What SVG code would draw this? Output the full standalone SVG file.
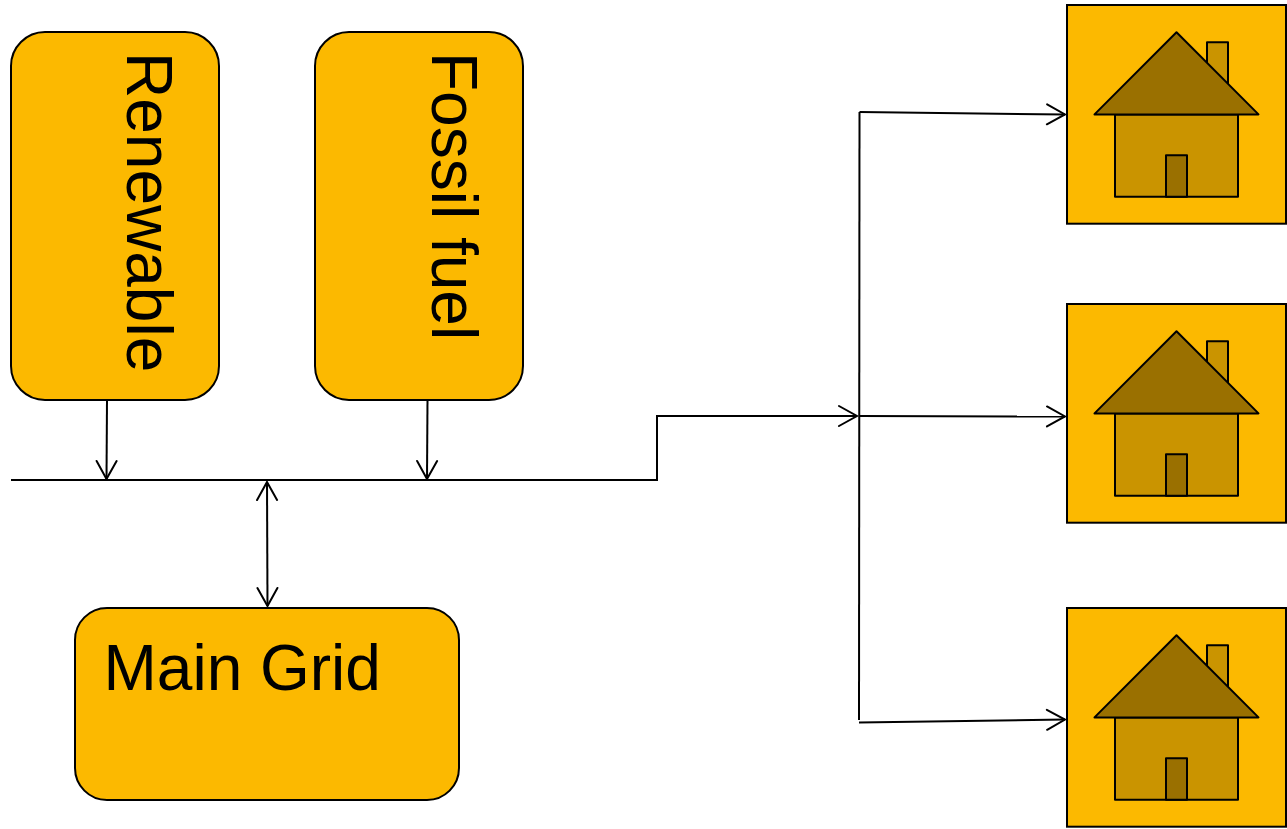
<svg xmlns="http://www.w3.org/2000/svg" width="1287" height="829" viewBox="0 0 1287 829">
<style>
.box{fill:#fcb900;stroke:#000;stroke-width:2}
.lbl{font-family:"Liberation Sans",Arial,sans-serif;font-size:64px;fill:#000}
.c{fill:none;stroke:#000;stroke-width:2}
.ah{fill:none;stroke:#000;stroke-width:2;stroke-linecap:round;stroke-linejoin:miter}
.hl{stroke:#000;stroke-width:2;stroke-linejoin:round}
.m{fill:#ca9400}
.d{fill:#9a7000}
</style>
<defs>
<marker id="a" viewBox="-22 -12 24 24" refX="0" refY="0" markerWidth="24" markerHeight="24" markerUnits="userSpaceOnUse" orient="auto-start-reverse"><path class="ah" d="M-18 -10L0 0L-18 10"/></marker>
<g id="house">
<rect class="box" x="1067" y="5" width="219" height="218.700"/>
<rect class="hl m" x="1207" y="42.300" width="21" height="50"/>
<rect class="hl m" x="1115" y="114.400" width="123" height="82.300"/>
<rect class="hl d" x="1166" y="155.300" width="21" height="41.400"/>
<path class="hl d" d="M1176.500 32.200L1258.500 114.400H1094.500Z"/>
</g>
</defs>
<g id="connectors">
<path class="c" d="M11 480H657V416H857" marker-end="url(#a)"/>
<path class="c" d="M107 400L106.500 479" marker-end="url(#a)"/>
<path class="c" d="M427.500 400L427 479" marker-end="url(#a)"/>
<path class="c" d="M267 482L267.500 606" marker-start="url(#a)" marker-end="url(#a)"/>
<path class="c" d="M859.500 112L859 720"/>
<path class="c" d="M859.500 112L1065 114.500" marker-end="url(#a)"/>
<path class="c" d="M859 416L1065 416.500" marker-end="url(#a)"/>
<path class="c" d="M859 722.500L1065 719.500" marker-end="url(#a)"/>
</g>
<g id="renewable"><rect class="box" x="11" y="32" width="208" height="368" rx="34"/><text class="lbl" transform="translate(127 52) rotate(90)">Renewable</text></g>
<g id="fossil-fuel"><rect class="box" x="315" y="32" width="208" height="368" rx="34"/><text class="lbl" transform="translate(432 52) rotate(90)">Fossil fuel</text></g>
<g id="main-grid"><rect class="box" x="75" y="608" width="384" height="192" rx="32"/><text class="lbl" x="103.500" y="689.500">Main Grid</text></g>
<g id="house-1"><use href="#house"/></g>
<g id="house-2"><use href="#house" y="299"/></g>
<g id="house-3"><use href="#house" y="603"/></g>
</svg>
